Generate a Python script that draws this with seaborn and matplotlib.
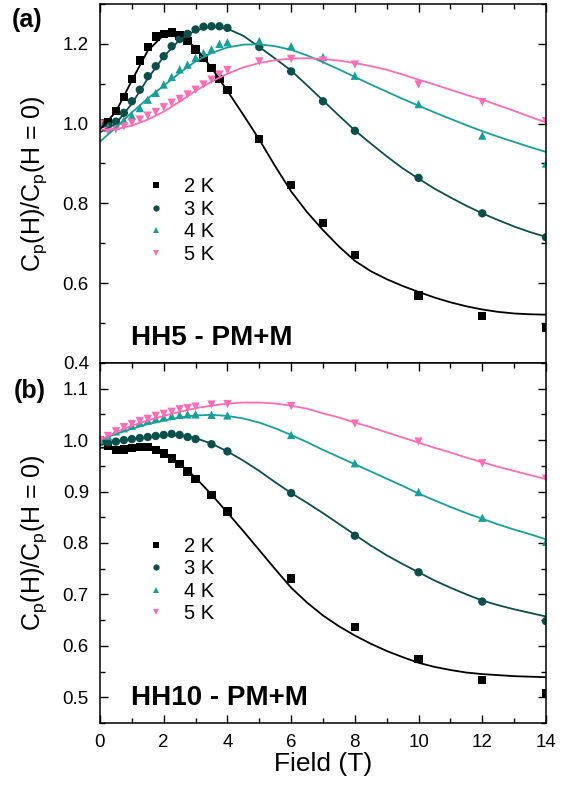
import pandas as pd
import matplotlib
matplotlib.use("Agg")
import matplotlib.pyplot as plt
from matplotlib.ticker import MultipleLocator
import seaborn as sns

# === DATA: measured points ===
TEMPS = ["2 K", "3 K", "4 K", "5 K"]

FIELD_A = [0, 0.25, 0.5, 0.75, 1.0, 1.25, 1.5, 1.75, 2.0, 2.25, 2.5, 2.75, 3.0,
           3.25, 3.5, 3.75, 4.0, 5, 6, 7, 8, 10, 12, 14]
A_2K = [1.0, 1.003, 1.031, 1.066, 1.112, 1.158, 1.192, 1.218, 1.225, 1.228, 1.221, 1.207,
        1.186, 1.165, 1.140, 1.112, 1.084, 0.962, 0.846, 0.751, 0.670, 0.569, 0.518, 0.488]
A_3K = [1.0, 0.995, 1.005, 1.027, 1.056, 1.085, 1.119, 1.144, 1.169, 1.194, 1.212, 1.225,
        1.236, 1.243, 1.244, 1.244, 1.240, 1.192, 1.131, 1.056, 0.982, 0.864, 0.775, 0.715]
A_4K = [1.0, 0.990, 0.995, 1.008, 1.020, 1.039, 1.060, 1.077, 1.098, 1.117, 1.136, 1.148,
        1.165, 1.177, 1.186, 1.200, 1.204, 1.207, 1.194, 1.167, 1.120, 1.049, 0.970, 0.900]
A_5K = [1.0, 0.981, 0.985, 0.993, 1.002, 1.010, 1.020, 1.029, 1.041, 1.052, 1.062, 1.073,
        1.085, 1.098, 1.110, 1.123, 1.134, 1.156, 1.162, 1.158, 1.148, 1.098, 1.054, 1.006]

FIELD_B = [0, 0.25, 0.5, 0.75, 1.0, 1.25, 1.5, 1.75, 2.0, 2.25, 2.5, 2.75, 3.0,
           3.5, 4.0, 6, 8, 10, 12, 14]
B_2K = [1.0, 0.988, 0.981, 0.982, 0.984, 0.986, 0.986, 0.981, 0.974, 0.964, 0.953, 0.939,
        0.924, 0.893, 0.861, 0.731, 0.637, 0.574, 0.533, 0.508]
B_3K = [1.0, 0.995, 0.997, 1.000, 1.002, 1.004, 1.006, 1.008, 1.010, 1.012, 1.010, 1.006,
        1.002, 0.992, 0.978, 0.897, 0.814, 0.743, 0.686, 0.648]
B_4K = [1.0, 1.008, 1.017, 1.023, 1.028, 1.034, 1.038, 1.041, 1.044, 1.047, 1.049, 1.050,
        1.050, 1.049, 1.048, 1.010, 0.955, 0.899, 0.849, 0.802]
B_5K = [1.0, 1.008, 1.017, 1.025, 1.031, 1.037, 1.041, 1.047, 1.051, 1.055, 1.060, 1.062,
        1.065, 1.069, 1.070, 1.066, 1.032, 0.997, 0.955, 0.925]

# === DATA: fit curves ===
FIT_FIELD = [0, 0.5, 1.0, 1.5, 2.0, 2.5, 3.0, 3.5, 4.0, 4.5, 5.0, 5.5, 6.0, 6.5, 7.0,
             7.5, 8.0, 8.5, 9.0, 9.5, 10, 10.5, 11, 11.5, 12, 12.5, 13, 13.5, 14]
FIT_A_2K = [0.985, 1.030, 1.108, 1.183, 1.222, 1.223, 1.190, 1.140, 1.082, 1.022, 0.960,
            0.893, 0.830, 0.778, 0.733, 0.692, 0.656, 0.630, 0.610, 0.593, 0.578, 0.564,
            0.552, 0.542, 0.534, 0.528, 0.524, 0.522, 0.521]
FIT_A_3K = [0.978, 1.000, 1.050, 1.113, 1.168, 1.210, 1.234, 1.243, 1.238, 1.220, 1.192,
            1.163, 1.133, 1.096, 1.058, 1.020, 0.983, 0.950, 0.918, 0.888, 0.862, 0.837,
            0.815, 0.794, 0.775, 0.758, 0.742, 0.728, 0.716]
FIT_A_4K = [0.955, 0.990, 1.028, 1.063, 1.095, 1.127, 1.156, 1.177, 1.191, 1.198, 1.199,
            1.194, 1.185, 1.171, 1.154, 1.136, 1.117, 1.098, 1.080, 1.062, 1.045, 1.028,
            1.012, 0.996, 0.981, 0.967, 0.954, 0.941, 0.929]
FIT_A_5K = [0.985, 0.986, 0.995, 1.010, 1.030, 1.055, 1.082, 1.105, 1.125, 1.141, 1.152,
            1.159, 1.163, 1.164, 1.162, 1.158, 1.152, 1.144, 1.135, 1.123, 1.110, 1.098,
            1.085, 1.072, 1.060, 1.046, 1.032, 1.017, 1.003]

FIT_B_2K = [0.985, 0.986, 0.986, 0.983, 0.973, 0.954, 0.927, 0.894, 0.859, 0.823, 0.786,
            0.749, 0.713, 0.684, 0.659, 0.638, 0.620, 0.604, 0.590, 0.578, 0.567, 0.559,
            0.553, 0.548, 0.545, 0.543, 0.541, 0.540, 0.539]
FIT_B_3K = [0.990, 0.997, 1.002, 1.006, 1.009, 1.009, 1.004, 0.993, 0.978, 0.960, 0.940,
            0.918, 0.897, 0.878, 0.858, 0.837, 0.816, 0.795, 0.776, 0.759, 0.743, 0.727,
            0.713, 0.700, 0.688, 0.679, 0.671, 0.664, 0.657]
FIT_B_4K = [1.000, 1.012, 1.022, 1.031, 1.038, 1.044, 1.048, 1.049, 1.047, 1.042, 1.034,
            1.023, 1.010, 0.996, 0.981, 0.967, 0.953, 0.939, 0.925, 0.911, 0.896, 0.883,
            0.870, 0.858, 0.847, 0.836, 0.826, 0.817, 0.807]
FIT_B_5K = [1.000, 1.015, 1.028, 1.038, 1.047, 1.055, 1.062, 1.067, 1.071, 1.073, 1.073,
            1.071, 1.067, 1.061, 1.052, 1.044, 1.034, 1.025, 1.015, 1.005, 0.995, 0.985,
            0.976, 0.966, 0.957, 0.948, 0.940, 0.932, 0.924]

# === STYLE ===
COLORS = {"2 K": "#000000", "3 K": "#0b4f4a", "4 K": "#17a09a", "5 K": "#ff6cb6"}
MARKERS = {"2 K": "s", "3 K": "o", "4 K": "^", "5 K": "v"}

sns.set_theme(style="ticks")
plt.rcParams["font.family"] = ["Liberation Sans", "DejaVu Sans"]
plt.rcParams.update({
    "axes.linewidth": 1.1,
    "axes.edgecolor": "black",
    "axes.labelcolor": "black",
    "xtick.color": "black",
    "ytick.color": "black",
    "text.color": "black",
})


def to_long(fields, series):
    rows = []
    for temp, values in zip(TEMPS, series):
        for f, v in zip(fields, values):
            rows.append({"field": f, "ratio": v, "temp": temp})
    return pd.DataFrame(rows)


def draw_panel(ax, fields, points, fits, tag):
    pts = to_long(fields, points)
    fit = to_long(FIT_FIELD, fits)
    sns.lineplot(data=fit, x="field", y="ratio", hue="temp", palette=COLORS,
                 estimator=None, sort=False, legend=False, linewidth=1.3, ax=ax)
    sns.scatterplot(data=pts, x="field", y="ratio", hue="temp", style="temp",
                    palette=COLORS, markers=MARKERS, s=36, linewidth=0, ax=ax)
    handles, labels = ax.get_legend_handles_labels()
    ax.get_legend().remove()
    ax.legend(handles, labels, loc="upper left", bbox_to_anchor=(0.062, 0.54),
              frameon=False, fontsize=14.5, handletextpad=0.4, labelspacing=0.18,
              markerscale=0.75, borderaxespad=0)
    ax.text(0.069, 0.05, tag, transform=ax.transAxes, fontsize=20,
            fontweight="bold", va="baseline")
    ax.set_xlim(0, 14)
    ax.xaxis.set_major_locator(MultipleLocator(2))
    ax.xaxis.set_minor_locator(MultipleLocator(1))
    ax.tick_params(which="both", direction="in", top=True, right=True,
                   labelsize=13.5, pad=8, width=1.0)
    ax.tick_params(which="major", length=6)
    ax.tick_params(which="minor", length=3.5)
    ax.set_ylabel(r"C$_\mathregular{p}$(H)/C$_\mathregular{p}$(H = 0)", fontsize=18)
    ax.yaxis.set_label_coords(-0.115, 0.5)


fig = plt.figure(figsize=(5.73, 7.89), dpi=100)
ax_a = fig.add_axes([0.1745, 0.540, 0.7784, 0.455])
ax_b = fig.add_axes([0.1745, 0.0837, 0.7784, 0.4563])

draw_panel(ax_a, FIELD_A, [A_2K, A_3K, A_4K, A_5K],
           [FIT_A_2K, FIT_A_3K, FIT_A_4K, FIT_A_5K], "HH5 - PM+M")
ax_a.set_ylim(0.4, 1.3)
ax_a.yaxis.set_major_locator(MultipleLocator(0.2))
ax_a.yaxis.set_minor_locator(MultipleLocator(0.1))
ax_a.tick_params(which="both", bottom=False, labelbottom=False)
ax_a.set_xlabel("")

draw_panel(ax_b, FIELD_B, [B_2K, B_3K, B_4K, B_5K],
           [FIT_B_2K, FIT_B_3K, FIT_B_4K, FIT_B_5K], "HH10 - PM+M")
ax_b.set_ylim(0.45, 1.15)
ax_b.yaxis.set_major_locator(MultipleLocator(0.1))
ax_b.yaxis.set_minor_locator(MultipleLocator(0.05))
ax_b.set_xlabel("Field (T)", fontsize=19, labelpad=1)

fig.text(0.02, 0.966, "(a)", fontsize=18, fontweight="bold")
fig.text(0.024, 0.4956, "(b)", fontsize=18, fontweight="bold")

fig.savefig("out.png", dpi=100)
